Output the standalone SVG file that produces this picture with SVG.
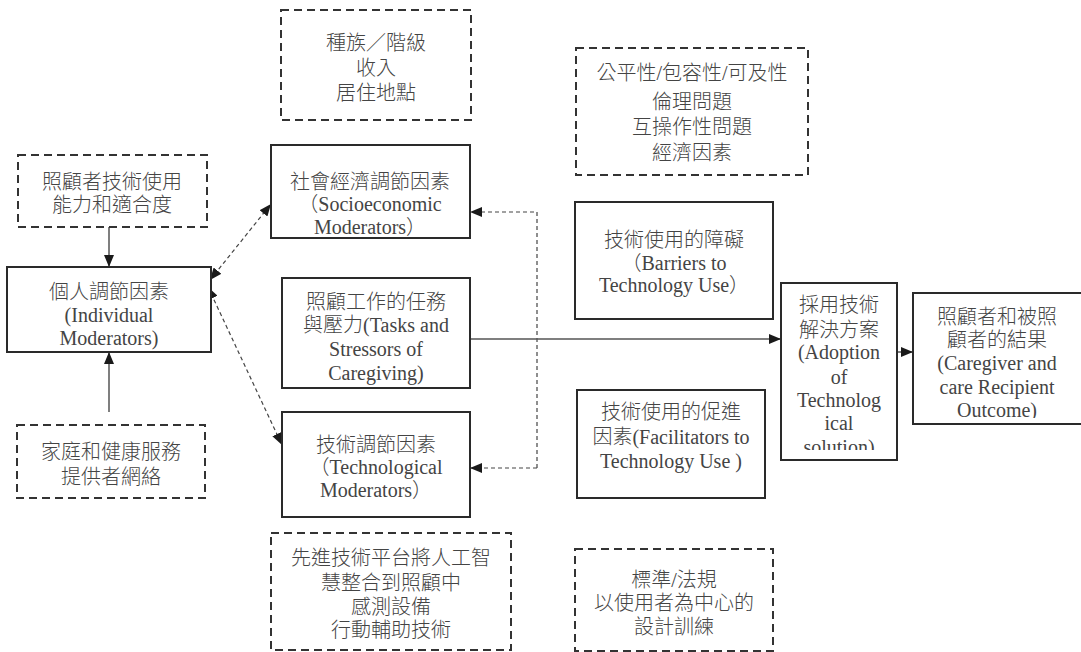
<svg xmlns="http://www.w3.org/2000/svg" width="1081" height="652" viewBox="0 0 1081 652">
<defs>
<style>
.box{fill:#fff;stroke:#2a2a2a;stroke-width:2}
.dbox{fill:#fff;stroke:#333;stroke-width:2;stroke-dasharray:8 5}
.t{font-family:"Liberation Serif","Noto Sans CJK TC",serif;font-size:20px;font-weight:300;fill:#444;text-anchor:middle;dominant-baseline:central}
.solid{fill:none;stroke:#555;stroke-width:1.5}
.dash{fill:none;stroke:#444;stroke-width:1.2;stroke-dasharray:4 3}
</style>
<marker id="ah" viewBox="0 0 12 10" refX="12" refY="5" markerWidth="12" markerHeight="10" markerUnits="userSpaceOnUse" orient="auto-start-reverse">
<path d="M0,0 L12,5 L0,10 Z" fill="#1a1a1a"/>
</marker>
<clipPath id="clipA"><rect x="781" y="283" width="116" height="167"/></clipPath>
<clipPath id="clipO"><rect x="913" y="293" width="168" height="125"/></clipPath>
</defs>

<g id="connectors">
<line class="solid" x1="109" y1="227" x2="109" y2="267" marker-end="url(#ah)"/>
<line class="solid" x1="109" y1="412" x2="109" y2="352" marker-end="url(#ah)"/>
<line class="dash" x1="210" y1="280" x2="271" y2="204" marker-start="url(#ah)" marker-end="url(#ah)"/>
<line class="dash" x1="208" y1="287" x2="282" y2="445" marker-start="url(#ah)" marker-end="url(#ah)"/>
<polyline class="dash" points="537,468 537,212 470,212" marker-end="url(#ah)"/>
<line class="dash" x1="537" y1="468" x2="470" y2="468" marker-end="url(#ah)"/>
<line class="solid" x1="470" y1="339" x2="781" y2="339" marker-end="url(#ah)"/>
<line class="solid" x1="893" y1="352" x2="913" y2="352" marker-end="url(#ah)"/>
</g>

<g id="caregiver-ability">
<rect class="dbox" x="18" y="155" width="189" height="72"/>
<text class="t" x="112" y="182">照顧者技術使用</text>
<text class="t" x="112" y="205">能力和適合度</text>
</g>

<g id="individual">
<rect class="box" x="7" y="267" width="204" height="85"/>
<text class="t" x="109" y="292">個人調節因素</text>
<text class="t" x="109" y="315">(Individual</text>
<text class="t" x="109" y="338">Moderators)</text>
</g>

<g id="family-network">
<rect class="dbox" x="17" y="425" width="188" height="73"/>
<text class="t" x="111" y="452">家庭和健康服務</text>
<text class="t" x="111" y="477">提供者網絡</text>
</g>

<g id="race-class">
<rect class="dbox" x="281" y="10" width="190" height="110"/>
<text class="t" x="376" y="43">種族／階級</text>
<text class="t" x="376" y="68">收入</text>
<text class="t" x="376" y="93">居住地點</text>
</g>

<g id="socioeconomic">
<rect class="box" x="271" y="145" width="199" height="93"/>
<text class="t" x="370" y="182">社會經濟調節因素</text>
<text class="t" x="370" y="204">（Socioeconomic</text>
<text class="t" x="370" y="227">Moderators）</text>
</g>

<g id="tasks">
<rect class="box" x="282" y="278" width="188" height="110"/>
<text class="t" x="376" y="302">照顧工作的任務</text>
<text class="t" x="376" y="325">與壓力(Tasks and</text>
<text class="t" x="376" y="349">Stressors of</text>
<text class="t" x="376" y="373">Caregiving)</text>
</g>

<g id="technological">
<rect class="box" x="282" y="412" width="188" height="105"/>
<text class="t" x="376" y="445">技術調節因素</text>
<text class="t" x="376" y="467">（Technological</text>
<text class="t" x="376" y="490">Moderators）</text>
</g>

<g id="tech-platform">
<rect class="dbox" x="271" y="533" width="240" height="117"/>
<text class="t" x="391" y="558">先進技術平台將人工智</text>
<text class="t" x="391" y="583">慧整合到照顧中</text>
<text class="t" x="391" y="607">感測設備</text>
<text class="t" x="391" y="630">行動輔助技術</text>
</g>

<g id="equity">
<rect class="dbox" x="576" y="48" width="232" height="127"/>
<text class="t" x="692" y="73">公平性/包容性/可及性</text>
<text class="t" x="692" y="102">倫理問題</text>
<text class="t" x="692" y="127">互操作性問題</text>
<text class="t" x="692" y="153">經濟因素</text>
</g>

<g id="barriers">
<rect class="box" x="575" y="202" width="198" height="117"/>
<text class="t" x="674" y="240">技術使用的障礙</text>
<text class="t" x="674" y="263">（Barriers to</text>
<text class="t" x="674" y="285">Technology Use）</text>
</g>

<g id="facilitators">
<rect class="box" x="577" y="390" width="188" height="108"/>
<text class="t" x="671" y="412">技術使用的促進</text>
<text class="t" x="671" y="437">因素(Facilitators to</text>
<text class="t" x="671" y="461">Technology Use )</text>
</g>

<g id="standards">
<rect class="dbox" x="575" y="549" width="198" height="102"/>
<text class="t" x="674" y="580">標準/法規</text>
<text class="t" x="674" y="603">以使用者為中心的</text>
<text class="t" x="674" y="627">設計訓練</text>
</g>

<g id="adoption">
<rect class="box" x="781" y="283" width="116" height="177"/>
<g clip-path="url(#clipA)">
<text class="t" x="839" y="305">採用技術</text>
<text class="t" x="839" y="330">解決方案</text>
<text class="t" x="839" y="352">(Adoption</text>
<text class="t" x="839" y="377">of</text>
<text class="t" x="839" y="400">Technolog</text>
<text class="t" x="839" y="423">ical</text>
<text class="t" x="839" y="447">solution)</text>
</g>
</g>

<g id="outcome">
<rect class="box" x="913" y="293" width="180" height="131"/>
<g clip-path="url(#clipO)">
<text class="t" x="997" y="317">照顧者和被照</text>
<text class="t" x="997" y="340">顧者的結果</text>
<text class="t" x="997" y="363">(Caregiver and</text>
<text class="t" x="997" y="387">care Recipient</text>
<text class="t" x="997" y="410">Outcome)</text>
</g>
</g>
</svg>
